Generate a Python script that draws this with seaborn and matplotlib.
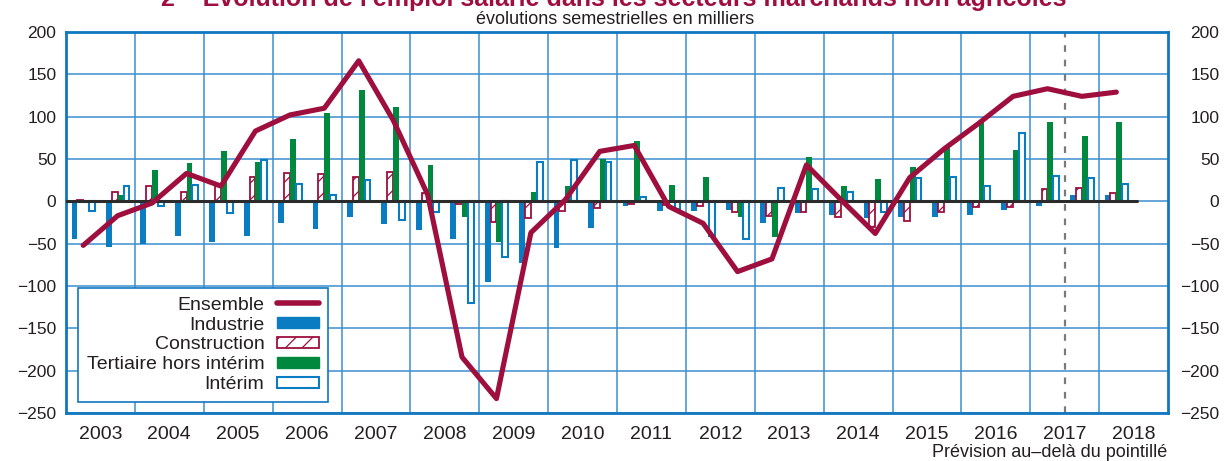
import numpy as np
import pandas as pd
import seaborn as sns
import matplotlib.pyplot as plt
from matplotlib.lines import Line2D
from matplotlib.patches import Patch

# semesters 2003 S1 .. 2018 S1 (forecast after 2017 S1)
years = list(range(2003, 2019))
positions = np.arange(31)

ensemble = [-52, -17, -2, 33, 18, 83, 102, 110, 166, 96, 8, -184, -233, -37, 2, 59,
            66, -6, -26, -83, -68, 43, 2, -38, 28, 62, 92, 124, 133, 124, 129]
industrie = [-44, -54, -50, -41, -48, -41, -26, -33, -18, -27, -34, -44, -95, -73, -55, -31,
             -6, -12, -12, -10, -26, -14, -16, -20, -18, -18, -16, -10, -5, 7, 7]
construction = [1, 11, 18, 11, 18, 29, 34, 32, 29, 35, 10, -3, -24, -20, -12, -8,
                -3, -4, -5, -13, -17, -13, -18, -30, -23, -13, -7, -7, 15, 16, 10]
tertiaire = [0, 8, 37, 45, 59, 47, 74, 104, 131, 111, 43, -19, -48, 11, 18, 50,
             71, 19, 29, -18, -42, 52, 18, 26, 40, 63, 94, 61, 94, 77, 94]
interim = [-12, 18, -6, 19, -14, 49, 20, 7, 25, -22, -13, -120, -66, 46, 49, 46,
           5, -9, -41, -44, 16, 15, 11, -13, 27, 29, 18, 81, 30, 27, 20]

sectors = ['Industrie', 'Construction', 'Tertiaire hors intérim', 'Intérim']

CRIMSON = '#9e0f3e'
BLUE = '#0a7cc2'
GREEN = '#00883f'
GRID = '#3a8fd0'
TEXT = '#231f20'

df = pd.DataFrame({'pos': positions, 'Industrie': industrie, 'Construction': construction,
                   'Tertiaire hors intérim': tertiaire, 'Intérim': interim})
df = df.melt(id_vars='pos', var_name='secteur', value_name='valeur')

sns.set_style('white')
plt.rcParams['font.family'] = ['Liberation Sans', 'DejaVu Sans']
plt.rcParams['hatch.linewidth'] = 0.9

fig = plt.figure(figsize=(12.28, 4.61), dpi=100)
ax = fig.add_axes([66 / 1228, 48 / 461, 1102 / 1228, 381 / 461])

sns.barplot(data=df, x='pos', y='valeur', hue='secteur', hue_order=sectors,
            palette=[BLUE, CRIMSON, GREEN, BLUE], native_scale=True, width=0.68,
            saturation=1, legend=False, linewidth=0, ax=ax, zorder=3)

for name, container in zip(sectors, ax.containers):
    for bar in container:
        if name == 'Construction':
            bar.set_facecolor('white')
            bar.set_edgecolor(CRIMSON)
            bar.set_hatch('//')
            bar.set_linewidth(1.3)
        elif name == 'Intérim':
            bar.set_facecolor('white')
            bar.set_edgecolor(BLUE)
            bar.set_linewidth(1.5)

ax.plot([-0.5, 30.6], [0, 0], color='#2b2b2b', lw=2.2, zorder=4)
sns.lineplot(x=positions, y=ensemble, color=CRIMSON, lw=3.7, ax=ax, zorder=5)
ax.axvline(28.5, color='#7a7a7a', lw=1.6, ls=(0, (3, 3.5)), zorder=2)

ax.set_xlim(-0.5, 31.5)
ax.set_ylim(-250, 200)
ax.set_xticks(np.arange(1.5, 30, 2))
ax.set_xticks(np.arange(0.5, 32, 2), minor=True)
ax.set_xticklabels([])
ax.set_xticklabels([str(y) for y in years], minor=True, fontsize=14, color=TEXT)
ax.set_yticks(np.arange(-250, 201, 50))
ax.tick_params(axis='x', which='both', length=0, pad=9)
ax.tick_params(axis='y', length=0, pad=7, labelsize=12.5, labelcolor=TEXT)
ax.grid(True, which='major', color=GRID, lw=1.1, zorder=0)
ax.set_axisbelow(True)
ax.set_xlabel('')
ax.set_ylabel('')
for sp in ax.spines.values():
    sp.set_color('#1177c0')
    sp.set_linewidth(2)

ax2 = ax.twinx()
ax2.set_ylim(-250, 200)
ax2.set_yticks(np.arange(-250, 201, 50))
ax2.tick_params(axis='y', length=0, pad=37, labelsize=12.5, labelcolor=TEXT)
for t in ax2.get_yticklabels():
    t.set_horizontalalignment('right')
for sp in ax2.spines.values():
    sp.set_visible(False)

handles = [
    Line2D([], [], color=CRIMSON, lw=4),
    Patch(facecolor=BLUE, edgecolor=BLUE),
    Patch(facecolor='white', edgecolor=CRIMSON, hatch='//', lw=1.3),
    Patch(facecolor=GREEN, edgecolor=GREEN),
    Patch(facecolor='white', edgecolor=BLUE, lw=1.5),
]
leg = ax.legend(handles, ['Ensemble'] + sectors, loc='lower left',
                bbox_to_anchor=(12 / 1102, 11 / 381), borderaxespad=0,
                markerfirst=False, fontsize=14, labelspacing=0.15,
                handlelength=2.15, handleheight=0.55, handletextpad=0.65,
                borderpad=0.45, fancybox=False, framealpha=1, edgecolor='#1177c0')
leg.get_frame().set_linewidth(1.2)
leg.set_zorder(6)
for t in leg.get_texts():
    t.set_color(TEXT)

fig.text(614 / 1228, 1 - 6 / 461,
         "2 – Évolution de l'emploi salarié dans les secteurs marchands non agricoles",
         ha='center', va='baseline', fontsize=18, fontweight='bold', color=CRIMSON)
fig.text(615 / 1228, 1 - 19 / 461, 'évolutions semestrielles en milliers',
         ha='center', va='center', fontsize=13, color=TEXT)
fig.text(1167 / 1228, 1 - 452 / 461, 'Prévision au–delà du pointillé',
         ha='right', va='center', fontsize=13, color=TEXT)

fig.savefig('out.png', dpi=100)
